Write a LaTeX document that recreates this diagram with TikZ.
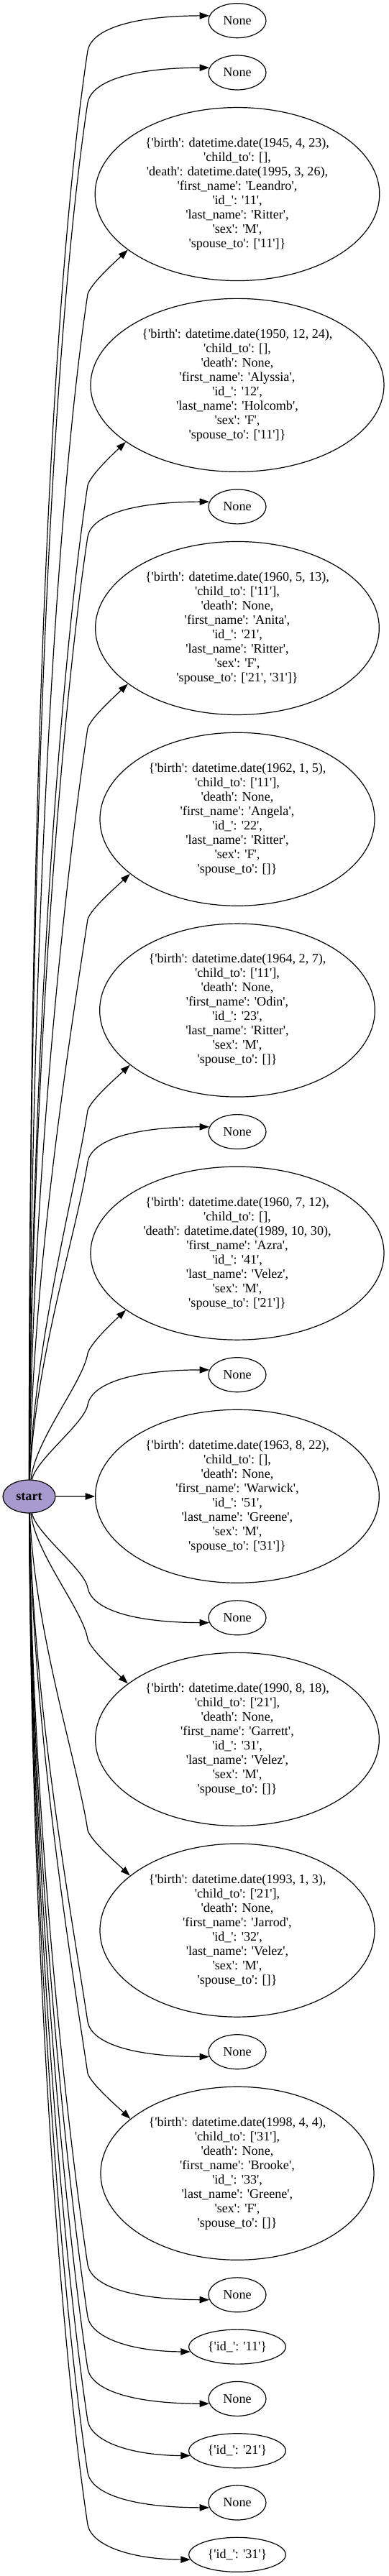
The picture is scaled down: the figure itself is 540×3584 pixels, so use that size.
\documentclass[tikz,border=0pt]{standalone}
\usepackage{fontspec}
\setmainfont{Liberation Serif}
\usetikzlibrary{shapes.geometric,arrows.meta}
\definecolor{startfill}{RGB}{168,154,206}
\newcommand{\qs}[1]{\textquotesingle#1\textquotesingle}
\begin{document}
\begin{tikzpicture}[x=0.75pt,y=-0.75pt,
  every node/.style={font=\fontsize{13.6pt}{15pt}\selectfont},
  small/.style={ellipse,draw,line width=0.9pt,inner sep=0pt,minimum width=60pt,minimum height=36pt},
  idn/.style={small,minimum width=101pt},
  big/.style={ellipse,draw,line width=0.9pt,inner sep=0pt,align=center,minimum height=180.75pt},
  startnode/.style={ellipse,draw,line width=0.9pt,fill=startfill,inner sep=0pt,minimum width=54.75pt,minimum height=34.5pt,font=\fontsize{13.6pt}{15pt}\selectfont\bfseries},
  edge/.style={line width=0.9pt,-{Triangle[length=10pt,width=7pt]}}]
\useasboundingbox (0,0) rectangle (540,3584);

\node[startnode] (start) at (40.5,2082) {start};

\node[small] (n1) at (330,28.7) {None};
\node[small] (n2) at (330,101.0) {None};
\node[big,minimum width=296.7pt] (n3) at (330,270.05) {\{\qs{birth}: datetime.date(1945, 4, 23),\\ \qs{child\_to}: [],\\ \qs{death}: datetime.date(1995, 3, 26),\\ \qs{first\_name}: \qs{Leandro},\\ \qs{id\_}: \qs{11},\\ \qs{last\_name}: \qs{Ritter},\\ \qs{sex}: \qs{M},\\ \qs{spouse\_to}: [\qs{11}]\}};
\node[big,minimum width=306pt] (n4) at (330,535.85) {\{\qs{birth}: datetime.date(1950, 12, 24),\\ \qs{child\_to}: [],\\ \qs{death}: None,\\ \qs{first\_name}: \qs{Alyssia},\\ \qs{id\_}: \qs{12},\\ \qs{last\_name}: \qs{Holcomb},\\ \qs{sex}: \qs{F},\\ \qs{spouse\_to}: [\qs{11}]\}};
\node[small] (n5) at (330,704.9) {None};
\node[big,minimum width=296pt] (n6) at (330,873.95) {\{\qs{birth}: datetime.date(1960, 5, 13),\\ \qs{child\_to}: [\qs{11}],\\ \qs{death}: None,\\ \qs{first\_name}: \qs{Anita},\\ \qs{id\_}: \qs{21},\\ \qs{last\_name}: \qs{Ritter},\\ \qs{sex}: \qs{F},\\ \qs{spouse\_to}: [\qs{21}, \qs{31}]\}};
\node[big,minimum width=286.5pt] (n7) at (330,1139.75) {\{\qs{birth}: datetime.date(1962, 1, 5),\\ \qs{child\_to}: [\qs{11}],\\ \qs{death}: None,\\ \qs{first\_name}: \qs{Angela},\\ \qs{id\_}: \qs{22},\\ \qs{last\_name}: \qs{Ritter},\\ \qs{sex}: \qs{F},\\ \qs{spouse\_to}: []\}};
\node[big,minimum width=287pt] (n8) at (330,1405.55) {\{\qs{birth}: datetime.date(1964, 2, 7),\\ \qs{child\_to}: [\qs{11}],\\ \qs{death}: None,\\ \qs{first\_name}: \qs{Odin},\\ \qs{id\_}: \qs{23},\\ \qs{last\_name}: \qs{Ritter},\\ \qs{sex}: \qs{M},\\ \qs{spouse\_to}: []\}};
\node[small] (n9) at (330,1574.6) {None};
\node[big,minimum width=306pt] (n10) at (330,1743.65) {\{\qs{birth}: datetime.date(1960, 7, 12),\\ \qs{child\_to}: [],\\ \qs{death}: datetime.date(1989, 10, 30),\\ \qs{first\_name}: \qs{Azra},\\ \qs{id\_}: \qs{41},\\ \qs{last\_name}: \qs{Velez},\\ \qs{sex}: \qs{M},\\ \qs{spouse\_to}: [\qs{21}]\}};
\node[small] (n11) at (330,1912.7) {None};
\node[big,minimum width=296pt] (n12) at (330,2081.75) {\{\qs{birth}: datetime.date(1963, 8, 22),\\ \qs{child\_to}: [],\\ \qs{death}: None,\\ \qs{first\_name}: \qs{Warwick},\\ \qs{id\_}: \qs{51},\\ \qs{last\_name}: \qs{Greene},\\ \qs{sex}: \qs{M},\\ \qs{spouse\_to}: [\qs{31}]\}};
\node[small] (n13) at (330,2250.8) {None};
\node[big,minimum width=296pt] (n14) at (330,2419.85) {\{\qs{birth}: datetime.date(1990, 8, 18),\\ \qs{child\_to}: [\qs{21}],\\ \qs{death}: None,\\ \qs{first\_name}: \qs{Garrett},\\ \qs{id\_}: \qs{31},\\ \qs{last\_name}: \qs{Velez},\\ \qs{sex}: \qs{M},\\ \qs{spouse\_to}: []\}};
\node[big,minimum width=286.5pt] (n15) at (330,2685.65) {\{\qs{birth}: datetime.date(1993, 1, 3),\\ \qs{child\_to}: [\qs{21}],\\ \qs{death}: None,\\ \qs{first\_name}: \qs{Jarrod},\\ \qs{id\_}: \qs{32},\\ \qs{last\_name}: \qs{Velez},\\ \qs{sex}: \qs{M},\\ \qs{spouse\_to}: []\}};
\node[small] (n16) at (330,2854.7) {None};
\node[big,minimum width=285pt] (n17) at (330,3023.75) {\{\qs{birth}: datetime.date(1998, 4, 4),\\ \qs{child\_to}: [\qs{31}],\\ \qs{death}: None,\\ \qs{first\_name}: \qs{Brooke},\\ \qs{id\_}: \qs{33},\\ \qs{last\_name}: \qs{Greene},\\ \qs{sex}: \qs{F},\\ \qs{spouse\_to}: []\}};
\node[small] (n18) at (330,3192.8) {None};
\node[idn] (n19) at (330,3265.1) {\{\qs{id\_}: \qs{11}\}};
\node[small] (n20) at (330,3337.4) {None};
\node[idn] (n21) at (330,3409.7) {\{\qs{id\_}: \qs{21}\}};
\node[small] (n22) at (330,3482.0) {None};
\node[idn] (n23) at (330,3554.3) {\{\qs{id\_}: \qs{31}\}};

% upper small targets
\foreach \n/\cy in {n1/28.7,n2/101.0,n5/704.9,n9/1574.6,n11/1912.7}{
  \pgfmathsetmacro{\kY}{\cy+41.5}
  \pgfmathsetmacro{\eY}{\cy-6.5}
  \pgfmathsetmacro{\dD}{2082-\kY}
  \draw[edge] (start) .. controls ({50-0.005*\dD},{2082-0.4*\dD}) and ({122-0.03*\dD},{\kY+0.2*\dD}) .. (122,\kY) .. controls (128,{\eY+18}) and (185,\eY) .. (\n.170);
}
% upper big targets
\foreach \n/\cy in {n3/270.05,n4/535.85,n6/873.95,n7/1139.75,n8/1405.55,n10/1743.65}{
  \pgfmathsetmacro{\kY}{\cy+139}
  \pgfmathsetmacro{\dD}{2082-\kY}
  \draw[edge] (start) .. controls ({50-0.005*\dD},{2082-0.4*\dD}) and ({122-0.03*\dD},{\kY+0.2*\dD}) .. (122,\kY) .. controls +(5,-15) and +(-18,17) .. (\n.207);
}
% direct
\draw[edge] (start) -- (n12);
% lower small targets
\foreach \n/\cy/\an in {n13/2250.8/190,n16/2854.7/190,n18/3192.8/190,n19/3265.1/186.5,n20/3337.4/190,n21/3409.7/186.5,n22/3482.0/190,n23/3554.3/186.5}{
  \pgfmathsetmacro{\kY}{\cy-41.5}
  \pgfmathsetmacro{\eY}{\cy+6.5}
  \pgfmathsetmacro{\dD}{\kY-2082}
  \draw[edge] (start) .. controls ({50-0.005*\dD},{2082+0.4*\dD}) and ({122-0.03*\dD},{\kY-0.2*\dD}) .. (122,\kY) .. controls (128,{\eY-18}) and (185,\eY) .. (\n.\an);
}
% lower big targets
\foreach \n/\cy in {n14/2419.85,n15/2685.65,n17/3023.75}{
  \pgfmathsetmacro{\kY}{\cy-139}
  \pgfmathsetmacro{\dD}{\kY-2082}
  \draw[edge] (start) .. controls ({50-0.005*\dD},{2082+0.4*\dD}) and ({122-0.03*\dD},{\kY-0.2*\dD}) .. (122,\kY) .. controls +(5,15) and +(-18,-17) .. (\n.153);
}
\end{tikzpicture}
\end{document}
